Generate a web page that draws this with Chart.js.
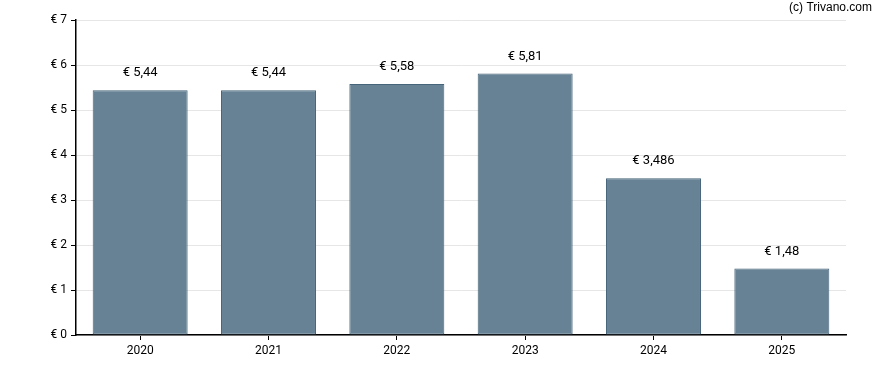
<!DOCTYPE html>
<html><head><meta charset="utf-8">
<script src="https://cdn.jsdelivr.net/npm/chart.js@4/dist/chart.umd.min.js"></script>
<style>html,body{margin:0;padding:0;background:#fff}#wrap{width:888px;height:370px}</style>
</head><body><div id="wrap"><canvas id="c" width="888" height="370"></canvas></div>
<script>
const categories = ['2020','2021','2022','2023','2024','2025'];
const values = [5.44, 5.44, 5.58, 5.81, 3.486, 1.48];
const valueLabels = ['€ 5,44','€ 5,44','€ 5,58','€ 5,81','€ 3,486','€ 1,48'];
const yTicks = [0,1,2,3,4,5,6,7];

const FONT = 'Roboto, "Liberation Sans", sans-serif';

const labelPlugin = {
  id: 'labels',
  afterDatasetsDraw(chart) {
    const ctx = chart.ctx;
    const meta = chart.getDatasetMeta(0);
    ctx.save();
    ctx.font = '13px ' + FONT;
    ctx.fillStyle = '#000';
    ctx.textAlign = 'center';
    ctx.textBaseline = 'middle';
    meta.data.forEach((bar, i) => {
      ctx.fillText(valueLabels[i], bar.x, bar.y - 17);
    });
    ctx.font = '12px "Liberation Sans", Arial, sans-serif';
    ctx.textAlign = 'right';
    ctx.fillText('(c) Trivano.com', 872, 8);
    ctx.restore();
  }
};

new Chart(document.getElementById('c'), {
  type: 'bar',
  data: {
    labels: categories,
    datasets: [{
      data: values,
      backgroundColor: 'rgba(102,130,148,1)',
      borderColor: 'rgba(70,100,122,1)',
      borderWidth: 1,
      borderSkipped: false,
      barPercentage: 0.74,
      categoryPercentage: 1
    }]
  },
  options: {
    responsive: false,
    animation: false,
    devicePixelRatio: 1,
    layout: { padding: { left: 0, right: 42, top: 20, bottom: 0 } },
    plugins: { legend: { display: false }, tooltip: { enabled: false } },
    scales: {
      x: {
        grid: { display: true, offset: false, drawOnChartArea: false, drawTicks: true, tickLength: 5, color: '#000' },
        border: { display: true, color: '#000', width: 1.5 },
        ticks: { color: '#000', font: { family: FONT, size: 12 }, padding: 4 },
        afterFit(s) { s.height = 35; }
      },
      y: {
        min: 0, max: 7,
        afterBuildTicks(s) { s.ticks = yTicks.map(v => ({ value: v })); },
        grid: { color: '#e6e6e6', lineWidth: 1, drawTicks: true, tickLength: 5, tickColor: '#000' },
        border: { display: true, color: '#000', width: 1.5 },
        ticks: { color: '#000', font: { family: FONT, size: 12 }, padding: 4,
                 callback: v => '€ ' + v },
        afterFit(s) { s.width = 76; }
      }
    }
  },
  plugins: [labelPlugin]
});
</script></body></html>
